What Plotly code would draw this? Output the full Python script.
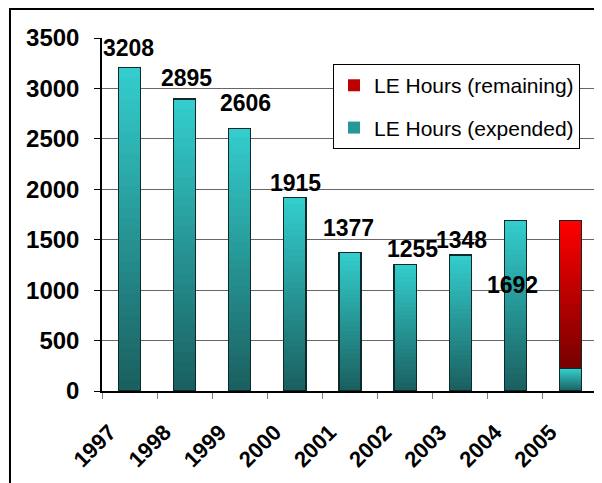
import plotly.graph_objects as go

years = ["1997", "1998", "1999", "2000", "2001", "2002", "2003", "2004", "2005"]
expended = [3208, 2895, 2606, 1915, 1377, 1255, 1348, 1692, 225]
remaining = [0, 0, 0, 0, 0, 0, 0, 0, 1467]
label_text = ["3208", "2895", "2606", "1915", "1377", "1255", "1348", "1692", ""]

# style only: label offsets in pixels (x, y)
label_dx = [-1, 2, 6, 1, -2, 7, 1, -3, 0]
label_dy = [4, 6, 10, 0, 9, 0, 0, -80, 0]

N = 30
teal_dark, teal_light = (26, 94, 94), (52, 206, 206)
red_dark, red_light = (118, 0, 0), (255, 0, 0)
FONT = "Arial, Liberation Sans"


def mix(a, b, t):
    return "rgb(%d,%d,%d)" % tuple(round(a[i] + (b[i] - a[i]) * t) for i in range(3))


fig = go.Figure()
for k in range(N):
    t = (k + 0.5) / N
    fig.add_trace(go.Bar(
        x=years, y=[v / N for v in expended],
        marker=dict(color=mix(teal_dark, teal_light, t), line=dict(width=0)),
        width=0.4, name="LE Hours (expended)",
        showlegend=(k == N // 2), legendrank=2, legendgroup="exp",
        hoverinfo="skip"))
for k in range(N):
    t = (k + 0.5) / N
    fig.add_trace(go.Bar(
        x=years, y=[v / N for v in remaining],
        marker=dict(color=mix(red_dark, red_light, t), line=dict(width=0)),
        width=0.4, name="LE Hours (remaining)",
        showlegend=(k == N // 2), legendrank=1, legendgroup="rem",
        hoverinfo="skip"))

# outlines
for vals in (expended, remaining):
    fig.add_trace(go.Bar(
        x=years, y=vals, xaxis="x2", width=0.4,
        marker=dict(color="rgba(0,0,0,0)", line=dict(color="#0d2a2a", width=1.2)),
        showlegend=False, hoverinfo="skip"))

for i, y in enumerate(years):
    if label_text[i]:
        fig.add_annotation(
            x=i, y=expended[i], xref="x", yref="y",
            text="<b>%s</b>" % label_text[i], showarrow=False,
            yanchor="bottom", xanchor="center", xshift=label_dx[i], yshift=label_dy[i],
            font=dict(family=FONT, size=23, color="black"))

# outer chart border
fig.add_shape(type="rect", xref="paper", yref="paper",
              x0=-0.1855, x1=1.2, y0=-0.5, y1=1.082,
              line=dict(color="black", width=2), fillcolor="rgba(0,0,0,0)", layer="below")
# plot area right edge
fig.add_shape(type="line", xref="paper", yref="paper", x0=1, x1=1, y0=0, y1=1,
              line=dict(color="#808080", width=2))

fig.update_layout(
    width=602, height=483,
    margin=dict(l=94, r=12, t=30, b=100, autoexpand=False),
    paper_bgcolor="white", plot_bgcolor="white",
    barmode="stack", bargap=0.6,
    font=dict(family=FONT, color="black"),
    xaxis=dict(type="category", categoryorder="array", categoryarray=years,
               tickangle=-45, ticks="outside", tickson="boundaries", ticklen=6,
               tickcolor="#808080", showline=True, linecolor="black", linewidth=1.5,
               tickfont=dict(size=22, family=FONT, weight="bold"),
               ticklabelstandoff=18, ticklabelshift=-20,
               showgrid=False, range=[-0.5, 8.5], automargin=False),
    xaxis2=dict(type="category", categoryorder="array", categoryarray=years,
                overlaying="x", matches="x", visible=False, range=[-0.5, 8.5],
                automargin=False),
    yaxis=dict(range=[0, 3500], dtick=500, showgrid=True, gridcolor="#666666",
               gridwidth=1, showline=True, linecolor="black", linewidth=1.5,
               ticks="outside", ticklen=6, tickcolor="black", zeroline=False,
               ticklabelstandoff=10, automargin=False,
               tickfont=dict(size=24, family=FONT, weight="bold")),
    legend=dict(x=0.4657, y=0.926, xanchor="left", yanchor="top",
                bgcolor="white", bordercolor="black", borderwidth=1,
                font=dict(size=21, family=FONT),
                tracegroupgap=12, traceorder="grouped"),
)

fig.write_html("out.html")
